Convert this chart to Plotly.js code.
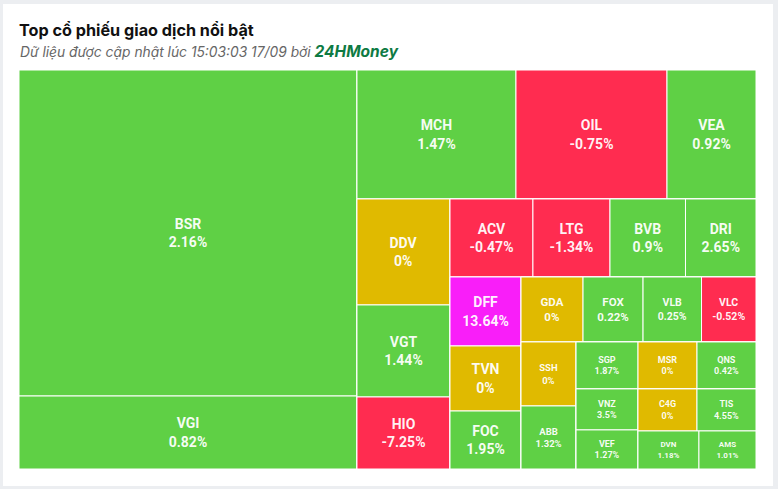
<!DOCTYPE html>
<html>
<head>
<meta charset="utf-8">
<script src="https://cdn.plot.ly/plotly-3.0.1.min.js"></script>
<style>
  html, body { margin: 0; padding: 0; width: 778px; height: 489px; overflow: hidden; background: #eceef1; }
  #card { position: absolute; left: 3px; top: 4px; width: 770px; height: 482px; background: #ffffff; }
  #chart { position: absolute; left: 0; top: 0; width: 778px; height: 489px; }
</style>
</head>
<body>
<div id="card"></div>
<div id="chart"></div>
<script>
// ---- Data ----
const tickers = ['BSR','VGI','MCH','OIL','VEA','DDV','VGT','HIO','ACV','LTG','BVB','DRI',
                 'DFF','TVN','FOC','GDA','FOX','VLB','VLC','SSH','ABB',
                 'SGP','MSR','QNS','VNZ','VEF','C4G','TIS','DVN','AMS'];
const changes = [2.16, 0.82, 1.47, -0.75, 0.92, 0, 1.44, -7.25, -0.47, -1.34, 0.9, 2.65,
                 13.64, 0, 1.95, 0, 0.22, 0.25, -0.52, 0, 1.32,
                 1.87, 0, 0.42, 3.5, 1.27, 0, 4.55, 1.18, 1.01];
// trading value (estimated from tile areas)
const tradeValues = [1101.9, 246.7, 205.1, 194.8, 114.8, 98.6, 85.6, 67.0, 64.7, 60.1, 58.9, 55.0,
                     49.0, 46.2, 41.2, 40.3, 39.0, 38.0, 35.4, 35.2, 34.7,
                     29.1, 27.7, 27.7, 25.4, 24.2, 24.8, 24.8, 23.2, 21.7];
const ceilingTickers = ['DFF'];

// grouping of the tiles (nested strips of the layout)
const groupIds     = ['root','A','R1','T','B1','C1','R2','W2','B2','C3','R3','W4','B3','C5','R4','WA','B4','C9','R9','WB','WC'];
const groupParents = ['','root','root','R1','R1','B1','B1','R2','R2','B2','B2','R3','R3','B3','B3','R4','R4','B4','B4','R9','R9'];
const leafGroup = ['A','A','T','T','T','C1','C1','C1','W2','W2','W2','W2',
                   'C3','C3','C3','W4','W4','W4','W4','C5','C5',
                   'WA','WA','WA','C9','C9','WB','WB','WC','WC'];

const titleText = 'Top cổ phiếu giao dịch nổi bật';
const subtitleText = 'Dữ liệu được cập nhật lúc 15:03:03 17/09 bởi ';
const brandText = '24HMoney';

// ---- Styles ----
const GREEN = '#5fd045', RED = '#ff2c50', YELLOW = '#e0ba00', PURPLE = '#f91ef9';
function colorFor(t, c) {
  if (ceilingTickers.includes(t)) return PURPLE;
  if (c === 0) return YELLOW;
  return c > 0 ? GREEN : RED;
}
function fontFor(v) {
  if (v >= 41) return 14;
  if (v >= 39) return 11.5;
  if (v >= 35.3) return 10.5;
  if (v >= 34) return 9.5;
  if (v >= 24) return 9;
  return 8;
}

const ids = groupIds.concat(tickers);
const parents = groupParents.concat(leafGroup);
const labels = groupIds.map(() => '').concat(tickers);
const values = groupIds.map(() => 0).concat(tradeValues);
const custom = groupIds.map(() => '').concat(changes.map(c => String(c) + '%'));
const colors = groupIds.map(() => '#ffffff').concat(tickers.map((t, i) => colorFor(t, changes[i])));
const templates = groupIds.map(() => ' ').concat(tickers.map(() => '%{label}<br>%{customdata}'));
const sizes = groupIds.map(() => 1).concat(tradeValues.map(fontFor));

const trace = {
  type: 'treemap',
  ids: ids,
  labels: labels,
  parents: parents,
  values: values,
  customdata: custom,
  branchvalues: 'remainder',
  sort: false,
  texttemplate: templates,
  textposition: 'middle center',
  textfont: { family: 'Roboto, Arial, sans-serif', size: sizes, color: 'rgba(255,255,255,0.94)', weight: 'bold' },
  insidetextfont: { family: 'Roboto, Arial, sans-serif', size: sizes, color: 'rgba(255,255,255,0.94)', weight: 'bold' },
  marker: {
    colors: colors,
    line: { color: '#ffffff', width: 1 },
    pad: { t: 0, l: 0, r: 0, b: 0 },
    depthfade: false
  },
  tiling: { packing: 'slice-dice', pad: 0 },
  pathbar: { visible: false },
  hoverinfo: 'label+text'
};

const layout = {
  width: 778,
  height: 489,
  margin: { l: 19, r: 22, t: 70, b: 20 },
  paper_bgcolor: 'rgba(0,0,0,0)',
  plot_bgcolor: 'rgba(0,0,0,0)',
  title: {
    text: titleText,
    font: { family: 'Inter, Roboto, Arial, sans-serif', size: 16.2, color: '#111111', weight: 'bold' },
    x: 0, xref: 'paper', xanchor: 'left',
    y: 0.95, yref: 'container', yanchor: 'top'
  },
  annotations: [{
    text: '<i>' + subtitleText + '<b><span style="color:#0e7a43;font-size:15.5px">' + brandText + '</span></b></i>',
    font: { family: 'Inter, Roboto, Arial, sans-serif', size: 13.8, color: '#666666' },
    xref: 'paper', yref: 'paper', x: 0, y: 1.0476,
    xanchor: 'left', yanchor: 'middle', showarrow: false, borderpad: 0
  }]
};

Plotly.newPlot('chart', [trace], layout, { displayModeBar: false, staticPlot: true });
</script>
</body>
</html>
